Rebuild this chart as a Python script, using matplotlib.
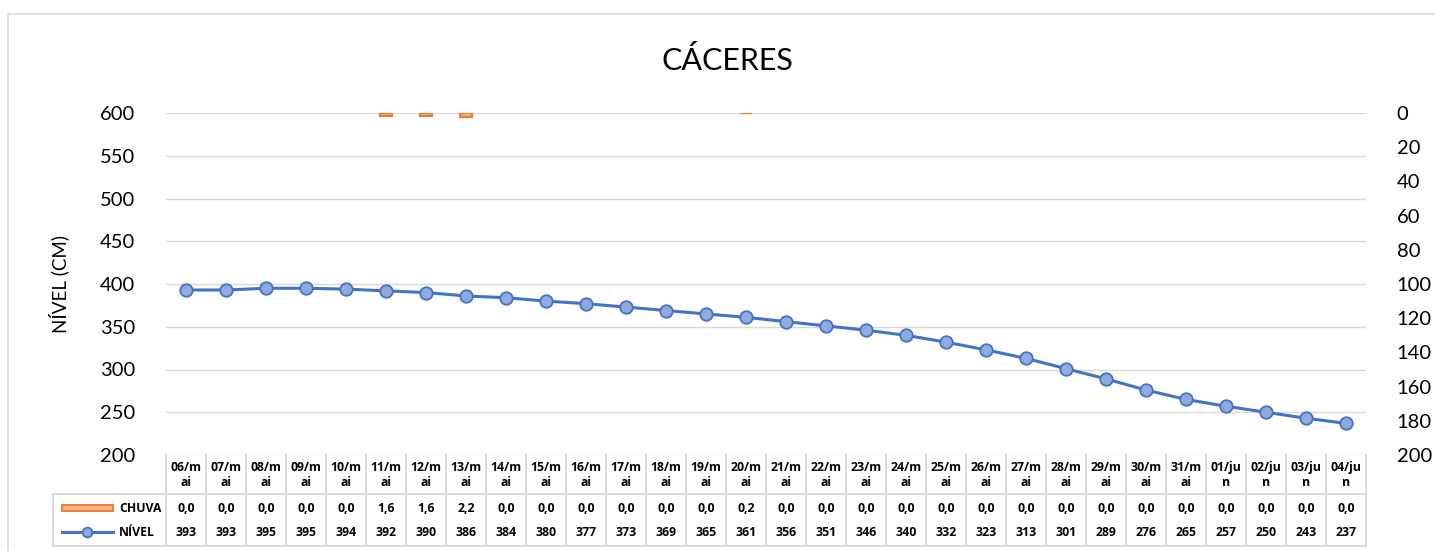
import matplotlib
import matplotlib.pyplot as plt
import numpy as np
from matplotlib.patches import Rectangle
from matplotlib.lines import Line2D
from matplotlib.transforms import blended_transform_factory

matplotlib.use("Agg")

datas = [
    "06/m\nai", "07/m\nai", "08/m\nai", "09/m\nai", "10/m\nai", "11/m\nai",
    "12/m\nai", "13/m\nai", "14/m\nai", "15/m\nai", "16/m\nai", "17/m\nai",
    "18/m\nai", "19/m\nai", "20/m\nai", "21/m\nai", "22/m\nai", "23/m\nai",
    "24/m\nai", "25/m\nai", "26/m\nai", "27/m\nai", "28/m\nai", "29/m\nai",
    "30/m\nai", "31/m\nai", "01/ju\nn", "02/ju\nn", "03/ju\nn", "04/ju\nn",
]
chuva = [0.0, 0.0, 0.0, 0.0, 0.0, 1.6, 1.6, 2.2, 0.0, 0.0, 0.0, 0.0, 0.0, 0.0, 0.2,
         0.0, 0.0, 0.0, 0.0, 0.0, 0.0, 0.0, 0.0, 0.0, 0.0, 0.0, 0.0, 0.0, 0.0, 0.0]
nivel = [393, 393, 395, 395, 394, 392, 390, 386, 384, 380, 377, 373, 369, 365, 361,
         356, 351, 346, 340, 332, 323, 313, 301, 289, 276, 265, 257, 250, 243, 237]
nivel_ticks = [200, 250, 300, 350, 400, 450, 500, 550, 600]
chuva_ticks = [0, 20, 40, 60, 80, 100, 120, 140, 160, 180, 200]

plt.rcParams["font.family"] = ["Lato", "DejaVu Sans"]

W, H = 1435, 551
BLUE = "#4472C4"
ORANGE = "#ED7D31"
GRID = "#D9D9D9"
TFONT = dict(family=["Open Sans", "DejaVu Sans"], fontsize=8.8, fontweight="bold")


def fy(py):
    return 1 - py / H


def fx(px):
    return px / W


fig = plt.figure(figsize=(W / 100, H / 100), dpi=100)
fig.patches.append(Rectangle((fx(8), -0.1), 1.2, fy(14) + 0.1, transform=fig.transFigure,
                             fill=False, edgecolor=GRID, linewidth=1.2))

ax = fig.add_axes([fx(166), fy(455), fx(1366) - fx(166), fy(113) - fy(455)])
x = np.arange(len(datas))
ax.set_xlim(-0.5, len(datas) - 0.5)
ax.set_ylim(200, 600)
ax.set_yticks(nivel_ticks)
ax.set_xticks([])
ax.grid(axis="y", color=GRID, linewidth=1.0)
ax.set_axisbelow(True)
for s in ax.spines.values():
    s.set_visible(False)
ax.tick_params(axis="y", length=0, labelsize=14.5, pad=22)
ax.set_ylabel("NÍVEL (CM)", fontsize=13.5, labelpad=22)

ax.plot(x, nivel, color=BLUE, linewidth=2.2, marker="o", markersize=9,
        markerfacecolor="#8FAADC", markeredgecolor=BLUE, markeredgewidth=1.3, zorder=4)

ax2 = ax.twinx()
ax2.set_ylim(200, 0)
ax2.set_yticks(chuva_ticks)
for s in ax2.spines.values():
    s.set_visible(False)
ax2.tick_params(axis="y", length=0, labelsize=14.5, pad=22)
edges = [ORANGE if c > 0 else "none" for c in chuva]
ax2.bar(x, chuva, width=0.32, bottom=0, color="#F4B183", edgecolor=edges, linewidth=1.6,
        zorder=3)

fig.text(fx(727), fy(60), "CÁCERES", ha="center", va="center", fontsize=22)

# data table
tr = blended_transform_factory(ax.transData, fig.transFigure)
n = len(datas)
for k in range(n + 1):
    fig.add_artist(Line2D([k - 0.5, k - 0.5], [fy(455), fy(546)], transform=tr,
                          color=GRID, linewidth=1.4))
fig.add_artist(Line2D([fx(53), fx(53)], [fy(494), fy(546)], transform=fig.transFigure,
                      color=GRID, linewidth=1.4))
x_end = fx(ax.transData.transform((n - 0.5, 0))[0])
for yy in (494, 546):
    fig.add_artist(Line2D([fx(53), x_end], [fy(yy), fy(yy)], transform=fig.transFigure,
                          color=GRID, linewidth=1.4))

for i in range(n):
    fig.text(i, fy(475), datas[i], transform=tr, ha="center", va="center",
             linespacing=1.25, **TFONT)
    fig.text(i, fy(508), f"{chuva[i]:.1f}".replace(".", ","), transform=tr,
             ha="center", va="center", **TFONT)
    fig.text(i, fy(532), str(nivel[i]), transform=tr, ha="center", va="center", **TFONT)

# legend keys
fig.patches.append(Rectangle((fx(62), fy(511)), fx(113) - fx(62), fy(505) - fy(511),
                             transform=fig.transFigure, facecolor="#F4B183",
                             edgecolor=ORANGE, linewidth=1.4))
fig.text(fx(119), fy(508), "CHUVA", ha="left", va="center", **TFONT)
fig.add_artist(Line2D([fx(62), fx(113)], [fy(532), fy(532)], transform=fig.transFigure,
                      color=BLUE, linewidth=2.2))
fig.add_artist(Line2D([fx(87)], [fy(532)], transform=fig.transFigure, marker="o",
                      markersize=7, markerfacecolor="#8FAADC", markeredgecolor=BLUE,
                      markeredgewidth=1.3))
fig.text(fx(119), fy(532), "NÍVEL", ha="left", va="center", **TFONT)

fig.savefig("out.png", dpi=100)
